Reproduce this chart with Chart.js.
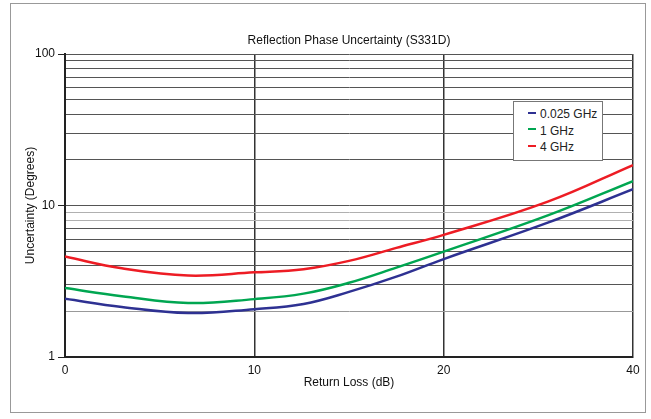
<!DOCTYPE html>
<html>
<head>
<meta charset="utf-8">
<script src="https://cdn.jsdelivr.net/npm/chart.js@4/dist/chart.umd.min.js"></script>
<style>
  body { margin: 0; background: #fff; }
  #wrap { position: relative; width: 651px; height: 419px; }
  #frame { position: absolute; left: 10px; top: 3px; width: 634px; height: 408px; border: 1px solid #999; }
  #chart { position: absolute; left: 0; top: 0; }
  #legend {
    position: absolute; left: 513px; top: 101px; width: 80px; height: 50px;
    padding: 4px 0 4px 8px; background: #fff; border: 1px solid #777;
    font: 12px "Liberation Sans", Arial, sans-serif; color: #222;
  }
  #legend div { height: 16.5px; line-height: 16.5px; white-space: nowrap; }
  #legend span { display: inline-block; width: 8px; height: 2px; margin: 0 4px 4px 6px; vertical-align: middle; }
</style>
</head>
<body>
<div id="wrap">
  <div id="frame"></div>
  <canvas id="chart" width="651" height="419"></canvas>
  <div id="legend"></div>
</div>
<script>
// =========================
// データ
// =========================
const chartTitle = "Reflection Phase Uncertainty (S331D)";
const xTitle = "Return Loss (dB)";
const yTitle = "Uncertainty (Degrees)";

// x はグラフ上の位置（目盛 0,10,20,40 が等間隔なので 0..30 で持つ）
const xTickValues = [0, 10, 20, 30];
const xTickLabels = ["0", "10", "20", "40"];
const xPos = [0, 3, 6.5, 10, 12.6, 15, 17.5, 20, 25.5, 30];

const yGridValues = [1, 2, 3, 4, 5, 6, 7, 8, 9, 10, 20, 30, 40, 50, 60, 70, 80, 90, 100];
const yTickLabels = { 1: "1", 10: "10", 100: "100" };

const seriesNames = ["0.025 GHz", "1 GHz", "4 GHz"];
const seriesColors = ["#2e3192", "#00a651", "#ed1c24"];
const blueVals = [2.42, 2.14, 1.95, 2.07, 2.24, 2.69, 3.39, 4.43, 7.7, 12.8];
const greenVals = [2.85, 2.52, 2.27, 2.41, 2.62, 3.09, 3.89, 4.96, 8.6, 14.5];
const redVals = [4.6, 3.85, 3.45, 3.62, 3.8, 4.31, 5.25, 6.4, 10.6, 18.5];

const FONT = "'Liberation Sans', Arial, sans-serif";

// =========================
// タイトル（プロット領域の中央に描く）
// =========================
const titlePlugin = {
  id: "plotTitle",
  afterDraw(chart) {
    const { ctx, chartArea } = chart;
    ctx.save();
    ctx.font = "12px " + FONT;
    ctx.fillStyle = "#111";
    ctx.textAlign = "center";
    ctx.textBaseline = "middle";
    ctx.fillText(chartTitle, (chartArea.left + chartArea.right) / 2, 41);
    ctx.restore();
  },
};

function gridColor(v) {
  if (v === 8 || v === 9) return "#b0b0b0";
  if (v === 2) return "#999";
  return "#555";
}

const datasets = [blueVals, greenVals, redVals].map((vals, i) => ({
  label: seriesNames[i],
  data: vals.map((y, j) => ({ x: xPos[j], y })),
  borderColor: seriesColors[i],
  borderWidth: 2.5,
  pointRadius: 0,
  tension: 0.4,
  fill: false,
}));

const chart = new Chart(document.getElementById("chart"), {
  type: "line",
  data: { datasets },
  plugins: [titlePlugin],
  options: {
    responsive: false,
    animation: false,
    devicePixelRatio: 1,
    layout: { padding: { left: 0, top: 54, right: 18, bottom: 0 } },
    plugins: { legend: { display: false }, tooltip: { enabled: false } },
    scales: {
      x: {
        type: "linear",
        min: 0,
        max: 30,
        afterFit: (s) => { s.height = 62; },
        afterBuildTicks: (s) => { s.ticks = xTickValues.map((v) => ({ value: v })); },
        ticks: {
          padding: 6,
          color: "#111",
          font: { family: FONT, size: 12 },
          callback: (v) => xTickLabels[xTickValues.indexOf(v)],
        },
        grid: { color: "#333", lineWidth: 1.5, drawTicks: false },
        border: { color: "#222", width: 2 },
        title: {
          display: true,
          text: xTitle,
          color: "#111",
          font: { family: FONT, size: 12 },
          padding: { top: 0, bottom: 29 },
        },
      },
      y: {
        type: "logarithmic",
        min: 1,
        max: 100,
        afterFit: (s) => { s.width = 65; },
        afterBuildTicks: (s) => { s.ticks = yGridValues.map((v) => ({ value: v })); },
        ticks: {
          padding: 3,
          color: "#111",
          font: { family: FONT, size: 12 },
          autoSkip: false,
          callback: (v) => yTickLabels[v] || "",
        },
        grid: {
          color: (c) => gridColor(c.tick && c.tick.value),
          lineWidth: 1,
          tickLength: 7,
          tickColor: (c) => (yTickLabels[c.tick && c.tick.value] ? "#222" : "rgba(0,0,0,0)"),
        },
        border: { color: "#222", width: 2 },
        title: {
          display: true,
          text: yTitle,
          color: "#111",
          font: { family: FONT, size: 12 },
          padding: { top: 23, bottom: 0 },
        },
      },
    },
  },
});

// =========================
// 凡例（データセットから生成）
// =========================
const legendBox = document.getElementById("legend");
legendBox.innerHTML = "";
chart.data.datasets.forEach((d) => {
  legendBox.innerHTML += `<div><span style="background:${d.borderColor}"></span>${d.label}</div>`;
});
</script>
</body>
</html>
